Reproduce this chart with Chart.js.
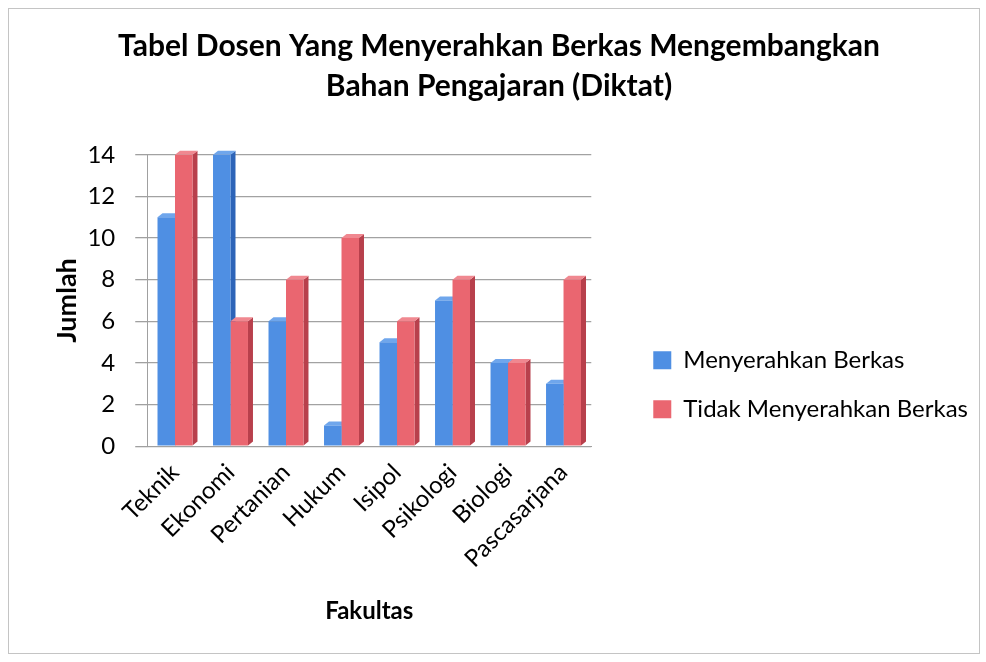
<!DOCTYPE html>
<html>
<head>
<meta charset="utf-8">
<script src="https://cdn.jsdelivr.net/npm/chart.js@4.4.0/dist/chart.umd.min.js"></script>
<style>
	body { margin: 0; background: #fff; }
	#wrap { position: relative; width: 986px; height: 662px; }
	#frame { position: absolute; left: 8px; top: 8px; width: 970px; height: 644px; border: 1px solid #c4c4c4; }
	canvas { position: absolute; left: 0; top: 0; }
</style>
</head>
<body>
<div id="wrap">
	<div id="frame"></div>
	<canvas id="chart" width="986" height="662"></canvas>
</div>
<script>
var fakultas = ["Teknik", "Ekonomi", "Pertanian", "Hukum", "Isipol", "Psikologi", "Biologi", "Pascasarjana"];
var menyerahkan = [11, 14, 6, 1, 5, 7, 4, 3];
var tidakMenyerahkan = [14, 6, 8, 10, 6, 8, 4, 8];
var yTicks = [0, 2, 4, 6, 8, 10, 12, 14];

var font = "Lato, 'Open Sans', sans-serif";

// sisi samping dan atas batang, digambar sebelum batang supaya tertutup batang di depannya
var efek3d = {
	id: 'efek3d',
	beforeDatasetsDraw: function(chart) {
		var ctx = chart.ctx;
		var d = 5, dy = 4;
		var sisi = ['#2d64b8', '#b8404c'];
		var atas = ['#6fa6ec', '#f08890'];
		ctx.save();
		chart.data.datasets.forEach(function(ds, i) {
			chart.getDatasetMeta(i).data.forEach(function(bar) {
				var left = bar.x - bar.width / 2;
				var right = bar.x + bar.width / 2;
				ctx.fillStyle = sisi[i];
				ctx.beginPath();
				ctx.moveTo(right, bar.y);
				ctx.lineTo(right + d, bar.y - dy);
				ctx.lineTo(right + d, bar.base - dy);
				ctx.lineTo(right, bar.base);
				ctx.closePath();
				ctx.fill();
				ctx.fillStyle = atas[i];
				ctx.beginPath();
				ctx.moveTo(left, bar.y);
				ctx.lineTo(left + d, bar.y - dy);
				ctx.lineTo(right + d, bar.y - dy);
				ctx.lineTo(right, bar.y);
				ctx.closePath();
				ctx.fill();
			});
		});
		ctx.restore();
	}
};

var ctx = document.getElementById('chart');
var chart = new Chart(ctx, {
	type: 'bar',
	data: {
		labels: fakultas,
		datasets: [
			{
				label: "Menyerahkan Berkas",
				data: menyerahkan,
				backgroundColor: "#4f8fe3",
				borderWidth: 0
			},
			{
				label: "Tidak Menyerahkan Berkas",
				data: tidakMenyerahkan,
				backgroundColor: "#ea6670",
				borderWidth: 0
			}
		]
	},
	options: {
		responsive: false,
		animation: false,
		layout: { padding: { left: 20, right: 8, top: 10, bottom: 32 } },
		datasets: {
			bar: { categoryPercentage: 0.63, barPercentage: 1.0 }
		},
		plugins: {
			title: {
				display: true,
				text: ["Tabel Dosen Yang Menyerahkan Berkas Mengembangkan", "Bahan Pengajaran (Diktat)"],
				color: "#000",
				font: { family: font, size: 30, weight: 'bold', lineHeight: 1.33 },
				padding: { top: 16, bottom: 49 }
			},
			legend: {
				position: 'right',
				align: 'end',
				fullSize: false,
				maxWidth: 400,
				labels: {
					color: "#000",
					font: { family: font, size: 24 },
					boxWidth: 18,
					boxHeight: 18,
					padding: 25
				}
			},
			tooltip: { enabled: false }
		},
		scales: {
			x: {
				grid: { display: false },
				border: { display: true, color: "#a0a0a0" },
				ticks: {
					color: "#000",
					font: { family: font, size: 24 },
					minRotation: 45,
					maxRotation: 45,
					padding: 4
				},
				title: {
					display: true,
					text: "Fakultas",
					color: "#000",
					font: { family: font, size: 24, weight: 'bold' },
					padding: { top: 20 }
				}
			},
			y: {
				min: 0,
				max: 14,
				afterBuildTicks: function(axis) {
					axis.ticks = yTicks.map(function(v) { return { value: v }; });
				},
				grid: { color: "#a2a2a2", lineWidth: 1.3, drawTicks: true, tickLength: 12, tickColor: "#a0a0a0" },
				border: { display: true, color: "#a0a0a0" },
				ticks: {
					color: "#000",
					font: { family: font, size: 24 },
					padding: 20
				},
				title: {
					display: true,
					text: "Jumlah",
					color: "#000",
					font: { family: font, size: 27, weight: 'bold' },
					padding: { top: 31, bottom: -16 }
				}
			},
			// sumbu kosong di kanan, hanya untuk memberi jarak ke legenda
			jarak: {
				position: 'right',
				display: true,
				grid: { display: false },
				border: { display: false },
				ticks: { display: false },
				afterFit: function(scale) { scale.width = 37; }
			}
		}
	},
	plugins: [efek3d]
});
</script>
</body>
</html>
